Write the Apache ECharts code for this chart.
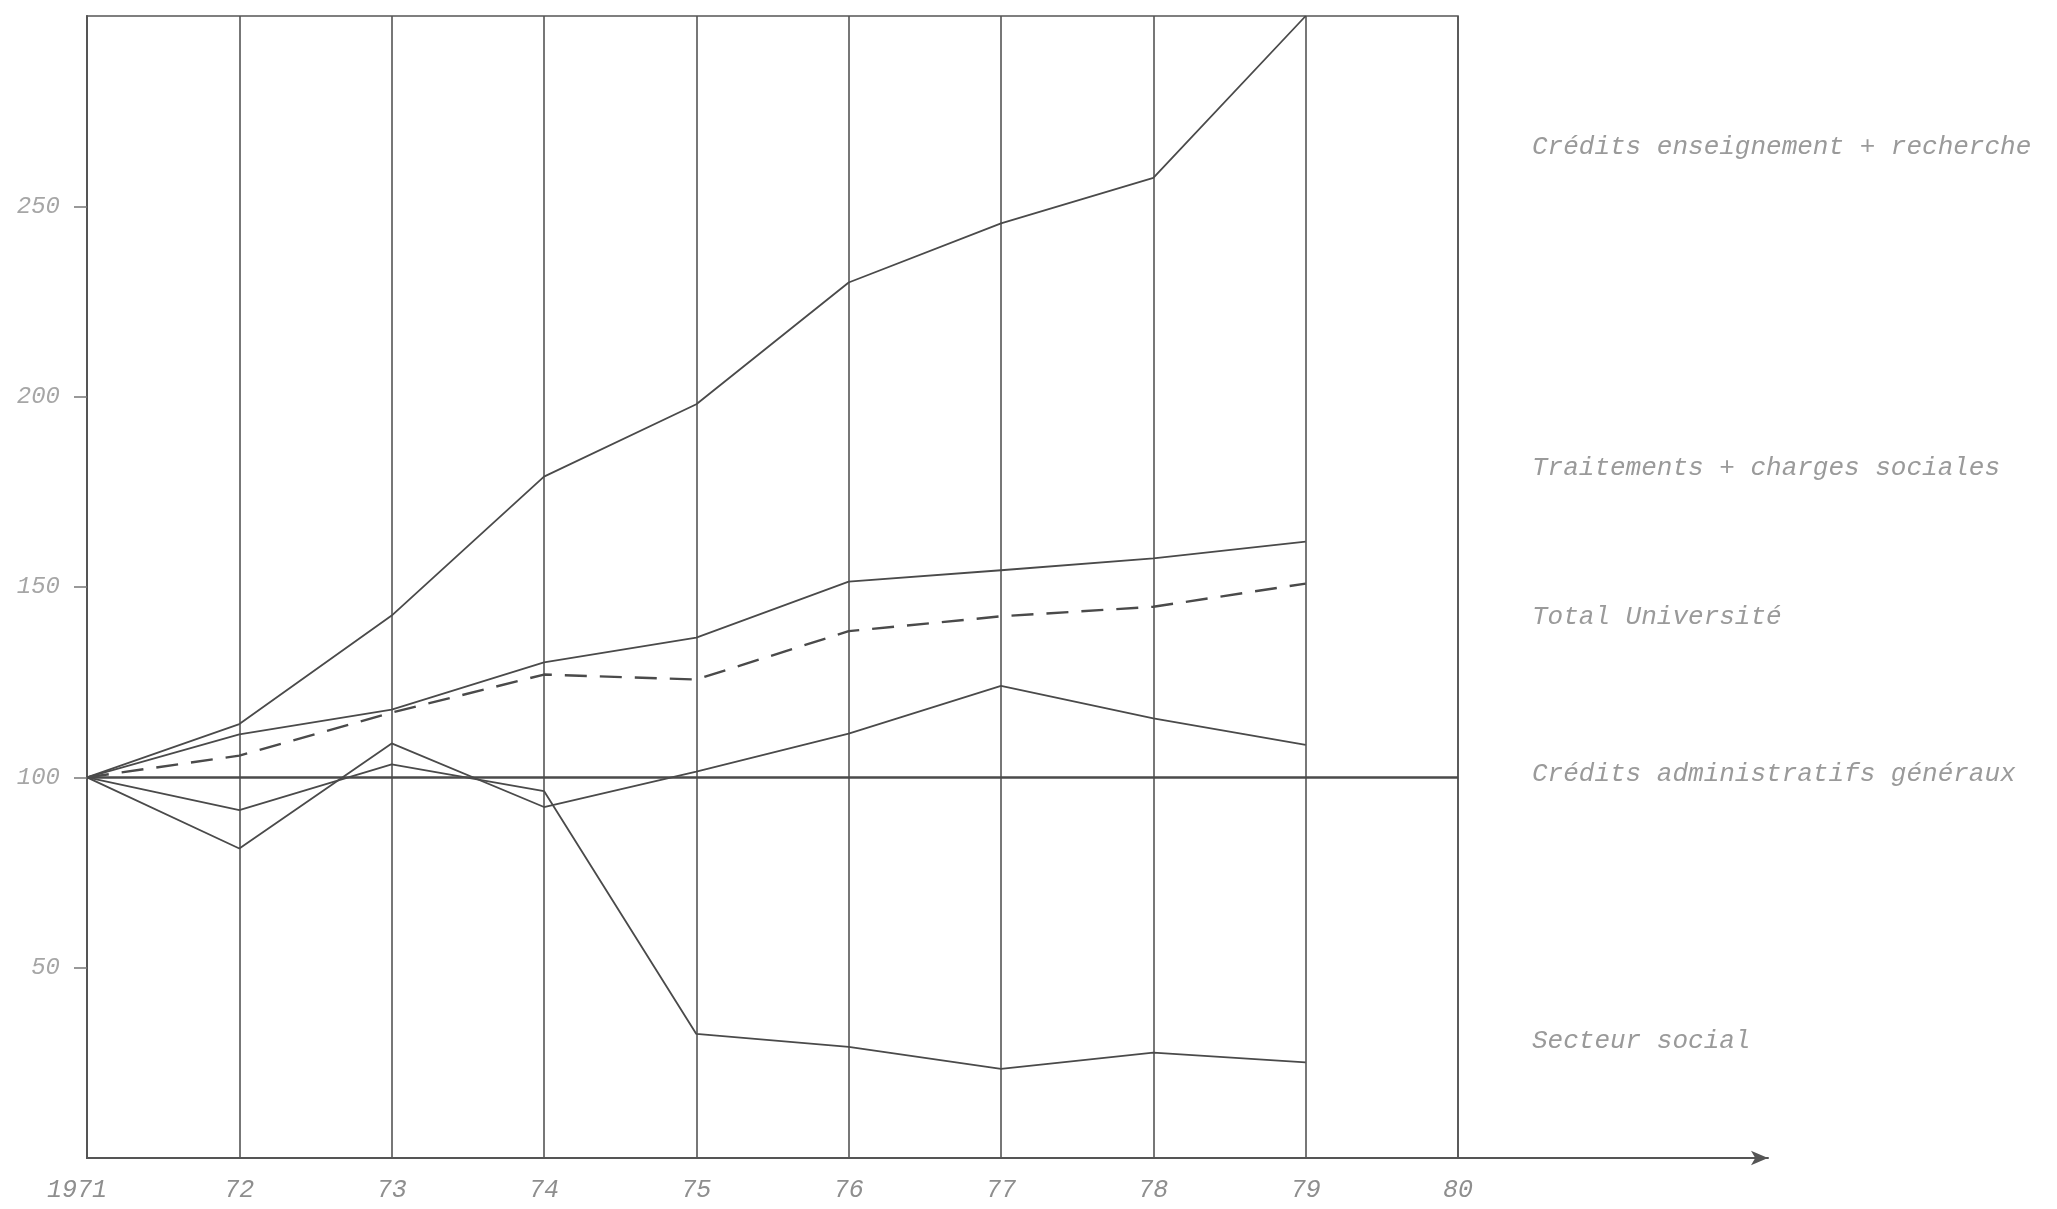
<!DOCTYPE html>
<html>
<head>
<meta charset="utf-8">
<script src="https://cdn.jsdelivr.net/npm/echarts@6/dist/echarts.min.js"></script>
<style>
html,body{margin:0;padding:0;background:#fff;}
#chart{width:2057px;height:1209px;}
</style>
</head>
<body>
<div id="chart"></div>
<script>
// Years (category axis)
const years = ['1971', '72', '73', '74', '75', '76', '77', '78', '79', '80'];
// Index values (1971 = 100); no data for 1980
const enseignementRecherche = [100, 114, 142.5, 179, 198, 230, 245.5, 257.5, 300];
const traitementsCharges   = [100, 111.3, 117.8, 130.2, 136.7, 151.4, 154.4, 157.5, 161.9];
const totalUniversite      = [100, 105.7, 117, 127, 125.7, 138.4, 142.3, 144.8, 150.9];
const administratifs       = [100, 81.3, 108.9, 92.2, 101.5, 111.5, 124, 115.5, 108.5];
const secteurSocial        = [100, 91.4, 103.4, 96.4, 32.6, 29.2, 23.4, 27.7, 25.1];
const baseValue = 100;
// Y tick labels
const yTicks = [50, 100, 150, 200, 250];
// Right-hand series labels
const seriesNames = [
  'Crédits enseignement + recherche',
  'Traitements + charges sociales',
  'Total Université',
  'Crédits administratifs généraux',
  'Secteur social'
];

const LINE = '#4a4a4a';
const FONT = "'Liberation Mono', 'DejaVu Sans Mono', monospace";

const chart = echarts.init(document.getElementById('chart'), null, {renderer: 'canvas'});

function lineSeries(name, data, dashed) {
  return {
    name: name,
    type: 'line',
    data: data,
    xAxisIndex: 0, yAxisIndex: 0,
    symbol: 'none',
    silent: true,
    lineStyle: {color: LINE, width: dashed ? 2.4 : 1.8, type: dashed ? [22, 13] : 'solid'},
    z: 5
  };
}

const labelYs = [147, 468, 617, 774, 1041];

chart.setOption({
  backgroundColor: '#ffffff',
  animation: false,
  grid: [
    {left: 87, right: 599, top: 16, bottom: 51, show: true, borderColor: '#555', borderWidth: 1.6, backgroundColor: 'transparent'},
    {left: 87, right: 289, top: 16, bottom: 51, show: false}
  ],
  xAxis: [
    {
      type: 'category', gridIndex: 0, data: years, boundaryGap: false,
      axisLine: {show: true, lineStyle: {color: '#555', width: 2}},
      axisTick: {show: false},
      splitLine: {show: true, interval: 0, lineStyle: {color: '#555', width: 1.6}},
      axisLabel: {
        interval: 0, margin: 20, color: '#8e8e8e', fontFamily: FONT, fontStyle: 'italic', fontSize: 25,
        formatter: function (v, i) { return i === 0 ? '{a|' + v + '}' : v; },
        rich: {a: {padding: [0, 20, 0, 0], color: '#8e8e8e', fontFamily: FONT, fontStyle: 'italic', fontSize: 25}}
      }
    },
    {
      type: 'value', gridIndex: 1, min: 0, max: 1,
      axisLine: {show: true, symbol: ['none', 'arrow'], symbolSize: [11, 17], lineStyle: {color: '#555', width: 2}},
      axisTick: {show: false}, axisLabel: {show: false}, splitLine: {show: false}
    }
  ],
  yAxis: [
    {
      type: 'value', gridIndex: 0, min: 0, max: 300, interval: 50,
      axisLine: {show: true, lineStyle: {color: '#555', width: 2}},
      axisTick: {show: true, length: 13, inside: false, lineStyle: {color: '#777', width: 1.5}, customValues: yTicks},
      splitLine: {show: false},
      axisLabel: {
        margin: 27, color: '#a6a6a6', fontFamily: FONT, fontStyle: 'italic', fontSize: 24,
        customValues: yTicks,
        formatter: function (v) { return yTicks.indexOf(v) >= 0 ? String(v) : ''; }
      }
    },
    {type: 'value', gridIndex: 1, min: 0, max: 1, show: false}
  ],
  series: [
    lineSeries(seriesNames[0], enseignementRecherche, false),
    lineSeries(seriesNames[1], traitementsCharges, false),
    lineSeries(seriesNames[2], totalUniversite, true),
    lineSeries(seriesNames[3], administratifs, false),
    Object.assign(lineSeries(seriesNames[4], secteurSocial, false), {
      markLine: {
        silent: true, symbol: ['none', 'none'], label: {show: false},
        lineStyle: {color: '#4a4a4a', width: 2.6, type: 'solid'},
        data: [{yAxis: baseValue}]
      }
    })
  ],
  graphic: seriesNames.map(function (t, i) {
    return {
      type: 'text', left: 1532, top: labelYs[i] - 13,
      style: {text: t, fill: '#9a9a9a', font: 'italic 26px ' + FONT}
    };
  })
});
</script>
</body>
</html>
